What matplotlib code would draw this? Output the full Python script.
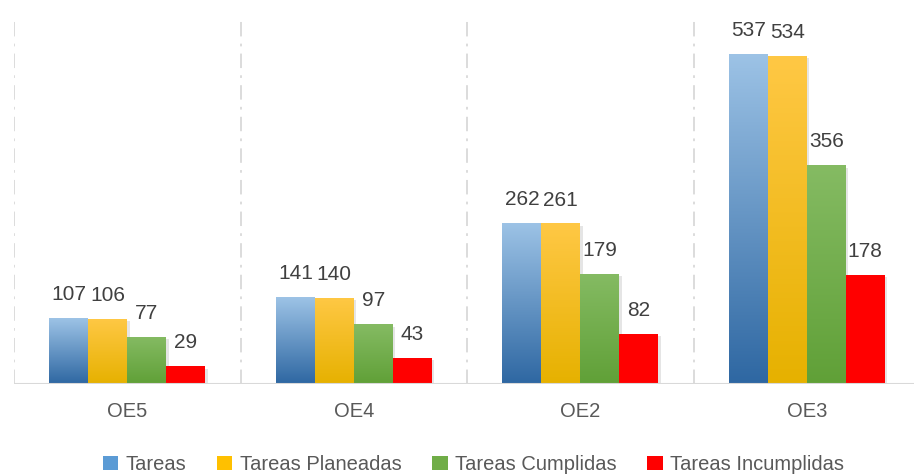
import numpy as np
import matplotlib
matplotlib.use("Agg")
import matplotlib.pyplot as plt
from matplotlib.colors import LinearSegmentedColormap
from matplotlib.patches import Patch

categories = ["OE5", "OE4", "OE2", "OE3"]
series_names = ["Tareas", "Tareas Planeadas", "Tareas Cumplidas", "Tareas Incumplidas"]
tareas = [107, 141, 262, 537]
planeadas = [106, 140, 261, 534]
cumplidas = [77, 97, 179, 356]
incumplidas = [29, 43, 82, 178]

series_values = [tareas, planeadas, cumplidas, incumplidas]
# (top colour, bottom colour) for each series gradient
gradients = [
    ("#9dc3e6", "#2e67a2"),
    ("#ffc845", "#e6b100"),
    ("#85bb63", "#60a037"),
    ("#ff0000", "#ff0000"),
]
legend_colors = ["#5b9bd5", "#ffc000", "#70ad47", "#ff0000"]

plt.rcParams["font.family"] = ["Liberation Sans Narrow", "Liberation Sans", "DejaVu Sans"]

fig = plt.figure(figsize=(9.14, 4.75), dpi=100)
ax = fig.add_axes([14 / 914, 91 / 475, 906 / 914, 369 / 475])

x = np.arange(len(categories))
width = 0.172
offsets = (np.arange(4) - 1.5) * width

grad = np.linspace(0, 1, 256).reshape(-1, 1)
for i, (vals, (top, bot)) in enumerate(zip(series_values, gradients)):
    xs = x + offsets[i]
    # soft shadow
    ax.bar(xs + 0.012, vals, width, bottom=-4, color="#000000", alpha=0.10,
           linewidth=0, zorder=1)
    bars = ax.bar(xs, vals, width, color=bot, linewidth=0, zorder=2)
    cmap = LinearSegmentedColormap.from_list(f"g{i}", [top, bot])
    for b in bars:
        x0, y0 = b.get_x(), b.get_y()
        im = ax.imshow(grad, cmap=cmap, aspect="auto", zorder=3,
                       extent=[x0, x0 + b.get_width(), y0, y0 + b.get_height()],
                       origin="upper")
        im.set_clip_path(b)
    for xi, v in zip(xs, vals):
        ax.annotate(str(v), (xi, v), xytext=(0, 10), textcoords="offset points",
                    ha="center", va="bottom", fontsize=15, color="#404040", zorder=5)

ax.set_xlim(-0.5, 3.5)
ax.set_ylim(0, 600)

for sep in np.arange(-0.5, 3.6, 1.0):
    ax.axvline(sep, color="#d9d9d9", linewidth=1.3, linestyle=(0, (8, 4, 1.5, 4)),
               zorder=0)
ax.axhline(0, color="#d9d9d9", linewidth=1.5, zorder=4)

for s in ax.spines.values():
    s.set_visible(False)
ax.set_yticks([])
ax.set_xticks(x)
ax.set_xticklabels(categories, fontsize=14.5, color="#595959")
ax.tick_params(axis="x", length=0, pad=13)

handles = [Patch(facecolor=c, edgecolor="none") for c in legend_colors]
fig.legend(handles, series_names, loc="center", bbox_to_anchor=(0.518, 0.022),
           ncol=4, frameon=False, fontsize=14.5, labelcolor="#595959",
           handlelength=0.75, handleheight=0.75, handletextpad=0.35,
           columnspacing=1.55)

fig.savefig("out.png", dpi=100)
